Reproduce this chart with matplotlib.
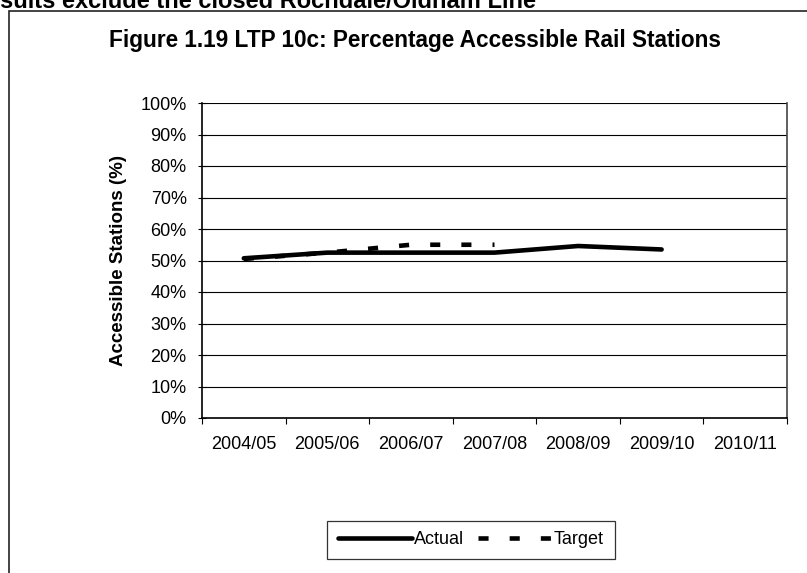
import matplotlib
matplotlib.use("Agg")
import matplotlib.pyplot as plt
from matplotlib.patches import Rectangle
from matplotlib.ticker import FixedLocator, PercentFormatter

plt.rcParams['font.family'] = ['Liberation Sans', 'DejaVu Sans']

years = ['2004/05', '2005/06', '2006/07', '2007/08', '2008/09', '2009/10', '2010/11']
actual = [50.7, 52.5, 52.5, 52.5, 54.6, 53.5]
target = [50.5, 52.5, 55.0, 55.0]

W, H = 807, 573
fig = plt.figure(figsize=(W / 100, H / 100), dpi=100)

# outer chart frame (runs off the right and bottom edges)
fig.patches.append(Rectangle((8.5 / W, -0.05), 1.2, 1 - 10.5 / H + 0.05,
                             transform=fig.transFigure, fill=False,
                             edgecolor='#222222', linewidth=1.2))

fig.text(536 / W, 1 - 8 / H, 'Results exclude the closed Rochdale/Oldham Line',
         ha='right', va='baseline', fontsize=17, fontweight='bold')

fig.text(415 / W, 1 - 47 / H, 'Figure 1.19 LTP 10c: Percentage Accessible Rail Stations',
         ha='center', va='baseline', fontsize=16.3, fontweight='bold')

left, right, top, bottom = 202, 787, 103, 418
ax = fig.add_axes([left / W, 1 - bottom / H, (right - left) / W, (bottom - top) / H])

x_a = list(range(len(actual)))
x_t = list(range(len(target)))
ax.plot(x_a, actual, color='black', linewidth=3.3, solid_capstyle='round',
        solid_joinstyle='round', label='Actual')
ax.plot(x_t, target, color='black', linewidth=3.3, dashes=(2.2, 4.6),
        dash_capstyle='butt', label='Target')

ax.set_xlim(-0.5, len(years) - 0.5)
ax.set_ylim(0, 100)
ax.yaxis.set_major_locator(FixedLocator(range(0, 101, 10)))
ax.yaxis.set_major_formatter(PercentFormatter(decimals=0))
ax.yaxis.grid(True, color='black', linewidth=0.8)
ax.set_axisbelow(True)

ax.xaxis.set_major_locator(FixedLocator([i - 0.5 for i in range(len(years) + 1)]))
ax.xaxis.set_major_formatter(plt.NullFormatter())
ax.xaxis.set_minor_locator(FixedLocator(range(len(years))))
ax.set_xticklabels(years, minor=True)
ax.tick_params(axis='x', which='minor', length=0, pad=13, labelsize=13)
ax.tick_params(axis='x', which='major', length=4, width=0.8, direction='out')
ax.tick_params(axis='y', length=6, width=0.8, direction='inout', labelsize=13, pad=8)

ax.spines['top'].set_visible(False)
ax.spines['left'].set_linewidth(1.2)
ax.spines['bottom'].set_linewidth(1.2)
ax.spines['right'].set_color('#444444')
ax.spines['right'].set_linewidth(1.2)

ax.set_ylabel('Accessible Stations (%)', fontsize=13.5, fontweight='bold', labelpad=10)

leg = fig.legend(loc='center', bbox_to_anchor=(471 / W, 1 - 540 / H), ncol=2,
                 frameon=True, fancybox=False, fontsize=13, handlelength=4.1,
                 handletextpad=0.1, columnspacing=0.8, borderpad=0.6)
leg.get_frame().set_edgecolor('black')
leg.get_frame().set_linewidth(0.9)

fig.savefig('out.png', dpi=100)
